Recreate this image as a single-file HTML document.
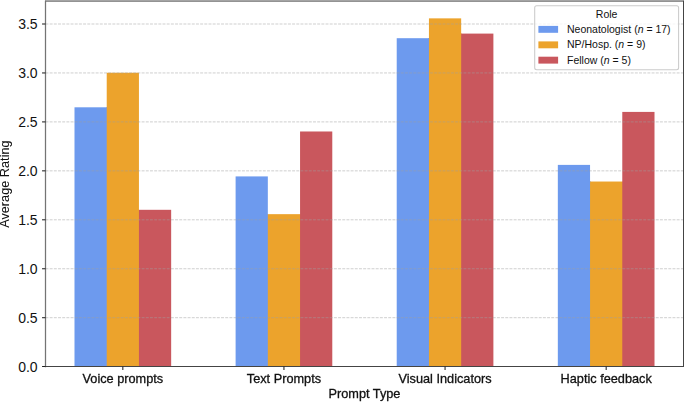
<!DOCTYPE html>
<html lang="en">
<head>
<meta charset="utf-8">
<title>Average Rating by Prompt Type and Role</title>
<style>
html,body{margin:0;padding:0;background:#fff;}
svg.lbl{position:absolute;left:0;top:0;will-change:transform;opacity:0.999;}
body{width:685px;height:402px;overflow:hidden;position:relative;font-family:"Liberation Sans",sans-serif;}
</style>
</head>
<body>
<svg width="685" height="402" viewBox="0 0 685 402" style="position:absolute;left:0;top:0">
<rect x="0" y="0" width="685" height="402" fill="#fff"/>
<rect x="74.50" y="107.30" width="32.22" height="259.15" fill="#6d9aee"/>
<rect x="106.00" y="107.30" width="1.00" height="259.15" fill="#6d9aee"/>
<rect x="106.72" y="72.75" width="32.22" height="293.70" fill="#eca32c"/>
<rect x="138.00" y="209.81" width="1.00" height="156.64" fill="#eca32c"/>
<rect x="138.94" y="209.81" width="32.22" height="156.64" fill="#c9575d"/>
<rect x="235.61" y="176.41" width="32.22" height="190.04" fill="#6d9aee"/>
<rect x="267.00" y="214.16" width="1.00" height="152.29" fill="#6d9aee"/>
<rect x="267.83" y="214.16" width="32.22" height="152.29" fill="#eca32c"/>
<rect x="300.00" y="214.16" width="1.00" height="152.29" fill="#eca32c"/>
<rect x="300.06" y="131.49" width="32.22" height="234.96" fill="#c9575d"/>
<rect x="396.72" y="38.20" width="32.22" height="328.25" fill="#6d9aee"/>
<rect x="428.00" y="38.20" width="1.00" height="328.25" fill="#6d9aee"/>
<rect x="428.94" y="18.36" width="32.22" height="348.09" fill="#eca32c"/>
<rect x="461.00" y="33.59" width="1.00" height="332.86" fill="#eca32c"/>
<rect x="461.17" y="33.59" width="32.22" height="332.86" fill="#c9575d"/>
<rect x="557.83" y="164.89" width="32.22" height="201.56" fill="#6d9aee"/>
<rect x="590.00" y="181.53" width="1.00" height="184.92" fill="#6d9aee"/>
<rect x="590.06" y="181.53" width="32.22" height="184.92" fill="#eca32c"/>
<rect x="622.00" y="181.53" width="1.00" height="184.92" fill="#eca32c"/>
<rect x="622.28" y="111.91" width="32.22" height="254.54" fill="#c9575d"/>
<g stroke="#a0a0a0" stroke-opacity="0.50" stroke-width="1.00" stroke-dasharray="2.92 1.26" fill="none">
<line x1="45.50" x2="683.50" y1="317.70" y2="317.70"/>
<line x1="45.50" x2="683.50" y1="268.75" y2="268.75"/>
<line x1="45.50" x2="683.50" y1="219.80" y2="219.80"/>
<line x1="45.50" x2="683.50" y1="170.85" y2="170.85"/>
<line x1="45.50" x2="683.50" y1="121.90" y2="121.90"/>
<line x1="45.50" x2="683.50" y1="72.95" y2="72.95"/>
<line x1="45.50" x2="683.50" y1="24.00" y2="24.00"/>
</g>
<rect x="45.00" y="0" width="639.00" height="1" fill="#b4b4b4"/>
<g fill="none" stroke-linecap="square">
<line x1="45.50" x2="683.50" y1="1.30" y2="1.30" stroke="#555555" stroke-width="0.80"/>
<line x1="45.50" x2="45.50" y1="1.30" y2="366.50" stroke="#747474" stroke-width="1.25"/>
<line x1="683.50" x2="683.50" y1="1.30" y2="366.50" stroke="#444444" stroke-width="1.00"/>
<line x1="45.50" x2="683.50" y1="366.50" y2="366.50" stroke="#444444" stroke-width="1.00"/>
</g>
<g stroke="#222222" stroke-width="1.05" fill="none">
<line x1="42.05" x2="45.50" y1="366.50" y2="366.50"/>
<line x1="42.05" x2="45.50" y1="317.70" y2="317.70"/>
<line x1="42.05" x2="45.50" y1="268.75" y2="268.75"/>
<line x1="42.05" x2="45.50" y1="219.80" y2="219.80"/>
<line x1="42.05" x2="45.50" y1="170.85" y2="170.85"/>
<line x1="42.05" x2="45.50" y1="121.90" y2="121.90"/>
<line x1="42.05" x2="45.50" y1="72.95" y2="72.95"/>
<line x1="42.05" x2="45.50" y1="24.00" y2="24.00"/>
<line x1="122.83" x2="122.83" y1="366.50" y2="369.95"/>
<line x1="283.94" x2="283.94" y1="366.50" y2="369.95"/>
<line x1="445.06" x2="445.06" y1="366.50" y2="369.95"/>
<line x1="606.17" x2="606.17" y1="366.50" y2="369.95"/>
</g>
<g font-family="'Liberation Sans', sans-serif" font-size="14" fill="#111111" text-anchor="end">
<text x="37.6" y="371.60">0.0</text>
<text x="37.6" y="322.60">0.5</text>
<text x="37.6" y="273.65">1.0</text>
<text x="37.6" y="224.70">1.5</text>
<text x="37.6" y="175.75">2.0</text>
<text x="37.6" y="126.80">2.5</text>
<text x="37.6" y="77.85">3.0</text>
<text x="37.6" y="28.90">3.5</text>
</g>
<rect x="534.70" y="5.80" width="143.90" height="63.90" rx="2" ry="2" fill="#fff" fill-opacity="0.8" stroke="#cbcbcb" stroke-width="1.05"/>
<g font-family="'Liberation Sans', sans-serif" font-size="10.5" fill="#111111">
<text x="606.65" y="17.60" text-anchor="middle">Role</text>
<text x="567.00" y="32.80">Neonatologist (<tspan font-style="italic">n</tspan> = 17)</text>
<text x="567.00" y="48.29">NP/Hosp. (<tspan font-style="italic">n</tspan> = 9)</text>
<text x="567.00" y="63.60">Fellow (<tspan font-style="italic">n</tspan> = 5)</text>
</g>
<rect x="538.40" y="25.90" width="19.70" height="6.90" fill="#6d9aee"/>
<rect x="538.40" y="41.40" width="19.70" height="6.90" fill="#eca32c"/>
<rect x="538.40" y="56.70" width="19.70" height="6.90" fill="#c9575d"/>
</svg>
<svg class="lbl" width="685" height="402" viewBox="0 0 685 402">
<g font-family="'Liberation Sans', sans-serif" font-size="12.73" fill="#111111" stroke="#111111" stroke-width="0.30" text-anchor="middle">
<text x="122.83" y="382.80">Voice prompts</text>
<text x="283.94" y="382.80">Text Prompts</text>
<text x="445.06" y="382.80">Visual Indicators</text>
<text x="606.17" y="382.80">Haptic feedback</text>
<text x="364.50" y="398.00">Prompt Type</text>
<text stroke-width="0.05" transform="translate(9.40 184.10) rotate(-90)">Average Rating</text>
</g></svg>
</body>
</html>
